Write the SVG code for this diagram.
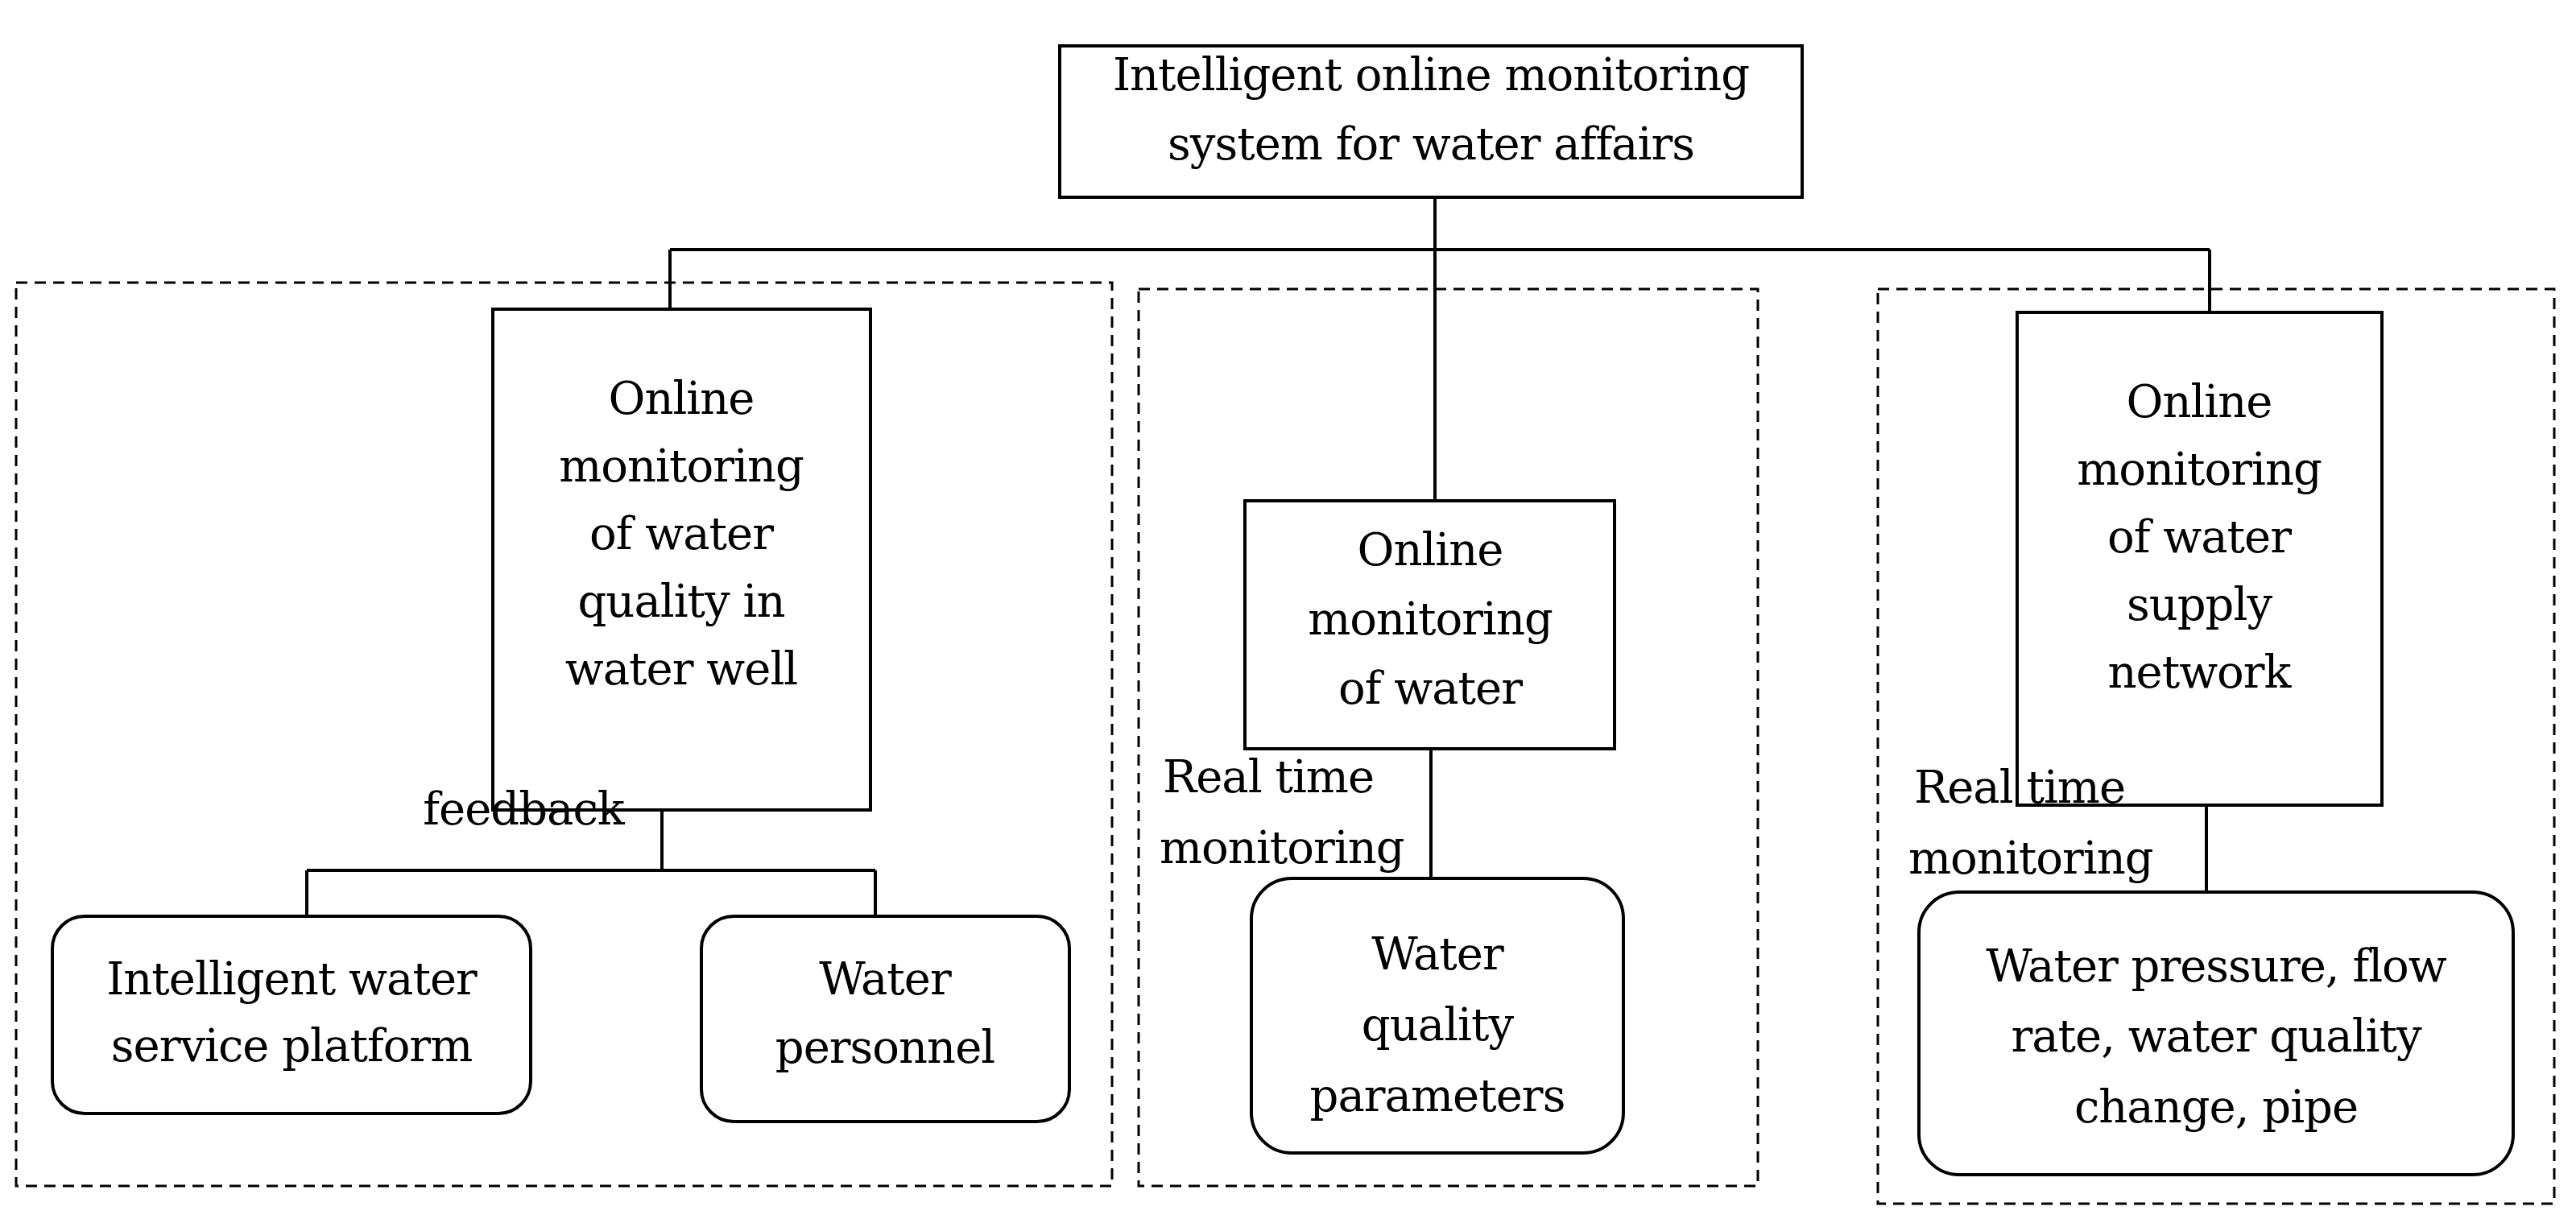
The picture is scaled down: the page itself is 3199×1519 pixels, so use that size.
<svg xmlns="http://www.w3.org/2000/svg" width="3199" height="1519" viewBox="0 0 3199 1519">
<style>
text{font-family:"DejaVu Serif","Liberation Serif",serif;font-size:56px;fill:#000;text-anchor:middle;letter-spacing:-1px}
.l{text-anchor:start}
.b{fill:#fff;stroke:#000;stroke-width:4}
.d{fill:none;stroke:#000;stroke-width:3;stroke-dasharray:14 9}
.c{fill:none;stroke:#000;stroke-width:4}
</style>
<rect width="3199" height="1519" fill="#fff"/>
<g id="groups">
<rect class="d" x="20" y="351" width="1361" height="1122"/>
<rect class="d" x="1414" y="359" width="769" height="1114"/>
<rect class="d" x="2332" y="359" width="840" height="1136"/>
</g>
<g id="connectors">
<path class="c" d="M1782 245V622M832 310H2744M832 310V384M2744 310V388"/>
<path class="c" d="M822 1006V1081M381 1081H1087M381 1081V1138M1087 1081V1138"/>
<path class="c" d="M1777 930V1091M2740 1000V1108"/>
</g>
<g id="top"><rect class="b" x="1316" y="57" width="922" height="188"/>
<text x="1777" y="112">Intelligent online monitoring</text><text x="1777" y="198">system for water affairs</text></g>
<g id="well"><rect class="b" x="612" y="384" width="469" height="622"/>
<text x="846" y="514">Online</text><text x="846" y="598">monitoring</text><text x="846" y="682">of water</text><text x="846" y="766">quality in</text><text x="846" y="850">water well</text></g>
<g id="water"><rect class="b" x="1546" y="622" width="459" height="308"/>
<text x="1776" y="702">Online</text><text x="1776" y="788">monitoring</text><text x="1776" y="874">of water</text></g>
<g id="network"><rect class="b" x="2505" y="388" width="453" height="612"/>
<text x="2731" y="518">Online</text><text x="2731" y="602">monitoring</text><text x="2731" y="686">of water</text><text x="2731" y="770">supply</text><text x="2731" y="854">network</text></g>
<g id="platform"><rect class="b" x="65" y="1138" width="594" height="245" rx="40"/>
<text x="362" y="1235">Intelligent water</text><text x="362" y="1318">service platform</text></g>
<g id="personnel"><rect class="b" x="871" y="1138" width="457" height="255" rx="40"/>
<text x="1099" y="1235">Water</text><text x="1099" y="1320">personnel</text></g>
<g id="params"><rect class="b" x="1554" y="1091" width="462" height="341" rx="50"/>
<text x="1785" y="1204">Water</text><text x="1785" y="1292">quality</text><text x="1785" y="1380">parameters</text></g>
<g id="pressure"><rect class="b" x="2383" y="1108" width="738" height="351" rx="50"/>
<text x="2752" y="1219">Water pressure, flow</text><text x="2752" y="1306">rate, water quality</text><text x="2752" y="1394">change, pipe</text></g>
<g id="labels">
<text x="650" y="1024">feedback</text>
<text class="l" x="1444" y="984">Real time</text><text class="l" x="1440" y="1072">monitoring</text>
<text class="l" x="2377" y="997">Real time</text><text class="l" x="2370" y="1085">monitoring</text>
</g>
</svg>
